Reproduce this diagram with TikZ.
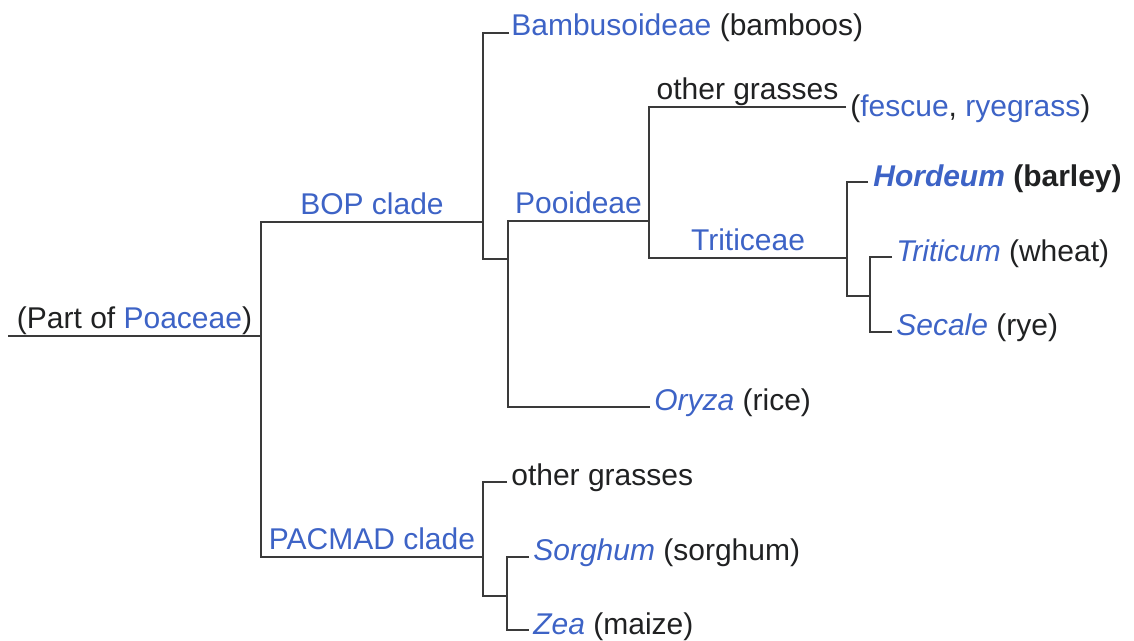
\documentclass[tikz,border=0pt]{standalone}
\usepackage{fontspec}
\setmainfont{Liberation Sans}
\usetikzlibrary{positioning}
\definecolor{wikiblue}{HTML}{3D63C6}
\definecolor{inkblack}{HTML}{202122}
\definecolor{branchgray}{HTML}{3A3A3A}
\newcommand{\lnk}[1]{\textcolor{wikiblue}{#1}}
\begin{document}
\begin{tikzpicture}[
        x=0.02cm, y=-0.02cm,
        font=\fontsize{17.07}{20}\selectfont, text=inkblack,
        branch/.style={draw=branchgray, line width=0.85pt},
        leaf/.style={anchor=base west, inner sep=0pt},
        clade/.style={anchor=base, inner sep=0pt, yshift=0.15cm},
        ]
        \useasboundingbox (0,0) rectangle (1134,640);

        % Branch points
        \coordinate (root) at (8,336);
        \coordinate (r0) at (261,336);
        \coordinate (bop) at (483,222);
        \coordinate (pac) at (483,557);
        \coordinate (p1) at (508,259);
        \coordinate (poo) at (649,221);
        \coordinate (tri) at (847,258);
        \coordinate (t1) at (870,296);
        \coordinate (z1) at (507,596);

        % Leaf ends
        \coordinate (bam) at (509,33);
        \coordinate (og1) at (846,107);
        \coordinate (hor) at (868,182);
        \coordinate (trit) at (892,257);
        \coordinate (sec) at (892,332);
        \coordinate (ory) at (650,407);
        \coordinate (og2) at (507,482);
        \coordinate (sor) at (529,557);
        \coordinate (zea) at (529,630);

        % Root and the two big clades
        \draw[branch] (root) -- node[clade] {(Part of \lnk{Poaceae})} (r0);
        \draw[branch] (bop) -| node[pos=0.25, clade] {\lnk{BOP clade}} (r0)
            |- node[pos=0.75, clade] {\lnk{PACMAD clade}} (pac);

        % BOP clade
        \draw[branch] (bam) -| (bop) |- (p1);
        \draw[branch] (poo) -| node[pos=0.25, clade] {\lnk{Pooideae}} (p1) |- (ory);
        \draw[branch] (og1) -| node[pos=0.25, clade] {other grasses} (poo)
            |- node[pos=0.75, clade] {\lnk{Triticeae}} (tri);
        \draw[branch] (hor) -| (tri) |- (t1);
        \draw[branch] (trit) -| (t1) |- (sec);

        % PACMAD clade
        \draw[branch] (og2) -| (pac) |- (z1);
        \draw[branch] (sor) -| (z1) |- (zea);

        % Leaves
        \node[leaf] (lbam) at (511,35) {\lnk{Bambusoideae} (bamboos)};
        \node[leaf] (lfes) at (850,116) {(\lnk{fescue}, \lnk{ryegrass})};
        \node[leaf] (lhor) at (873,186) {\bfseries\lnk{\itshape Hordeum} (barley)};
        \node[leaf] (ltrit) at (896,261) {\lnk{\itshape Triticum} (wheat)};
        \node[leaf] (lsec) at (896,335) {\lnk{\itshape Secale} (rye)};
        \node[leaf] (lory) at (654,410) {\lnk{\itshape Oryza} (rice)};
        \node[leaf] (log2) at (511,485) {other grasses};
        \node[leaf] (lsor) at (533,560) {\lnk{\itshape Sorghum} (sorghum)};
        \node[leaf] (lzea) at (533,634) {\lnk{\itshape Zea} (maize)};

    \end{tikzpicture}
\end{document}
